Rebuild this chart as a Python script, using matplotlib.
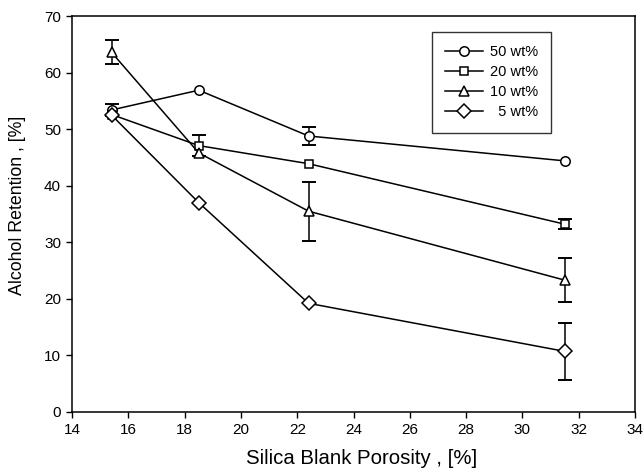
import matplotlib
matplotlib.use("Agg")
import matplotlib.pyplot as plt
import numpy as np

plt.rcParams['font.family'] = ['Liberation Sans', 'DejaVu Sans']

porosity = [15.4, 18.5, 22.4, 31.5]
labels = ["50 wt%", "20 wt%", "10 wt%", "  5 wt%"]
markers = ["o", "s", "^", "D"]
ret_50 = [53.4, 56.9, 48.8, 44.4]
err_50 = [1.0, 0.0, 1.6, 0.0]
ret_20 = [52.6, 47.1, 43.9, 33.2]
err_20 = [0.0, 1.8, 0.0, 0.9]
ret_10 = [63.6, 45.8, 35.5, 23.3]
err_10 = [2.1, 0.0, 5.2, 3.9]
ret_5 = [52.5, 37.0, 19.2, 10.7]
err_5 = [0.0, 0.0, 0.0, 5.0]

series = [(ret_50, err_50), (ret_20, err_20), (ret_10, err_10), (ret_5, err_5)]
msizes = [6.8, 6.3, 7, 7]

fig = plt.figure(figsize=(6.44, 4.75), dpi=100)
ax = fig.add_axes([0.112, 0.133, 0.874, 0.833])

for (vals, errs), lab, m, ms in zip(series, labels, markers, msizes):
    x = np.array(porosity)
    y = np.array(vals)
    e = np.array(errs)
    sel = e > 0
    ax.errorbar(x[sel], y[sel], yerr=e[sel], fmt='none', ecolor='black',
                elinewidth=1.1, capsize=5, capthick=1.4, zorder=2)
    ax.plot(x, y, color='black', lw=1.1, marker=m, markersize=ms,
            markerfacecolor='white', markeredgecolor='black',
            markeredgewidth=1.1, label=lab, zorder=3)

ax.set_xlim(14, 34)
ax.set_ylim(0, 70)
ax.set_xticks(range(14, 35, 2))
ax.set_yticks(range(0, 71, 10))
ax.tick_params(direction='out', length=4, width=1, labelsize=11, pad=4)
for s in ax.spines.values():
    s.set_linewidth(1.1)

ax.set_xlabel("Silica Blank Porosity , [%]", fontsize=14.7)
ax.xaxis.set_label_coords(0.514, -0.095)
ax.set_ylabel("Alcohol Retention , [%]", fontsize=12.8)
ax.yaxis.set_label_coords(-0.082, 0.522)

leg = ax.legend(loc='upper left', bbox_to_anchor=(0.639, 0.96),
                fontsize=10.5, frameon=True, fancybox=False, edgecolor='black',
                handlelength=2.6, borderpad=0.9, labelspacing=0.42,
                handletextpad=0.5, borderaxespad=0)
leg.get_frame().set_linewidth(1.0)

fig.savefig("out.png", dpi=100)
